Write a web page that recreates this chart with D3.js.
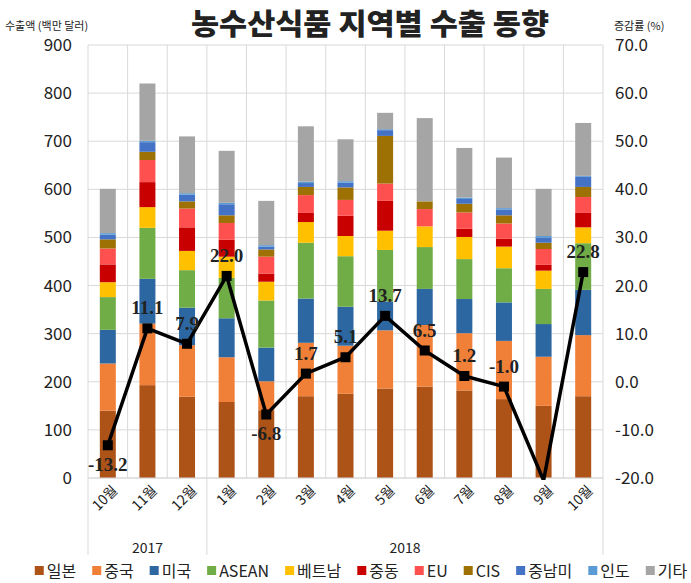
<!DOCTYPE html>
<html>
<head>
<meta charset="utf-8">
<script src="https://cdn.jsdelivr.net/npm/d3@7"></script>
<style>
  body { margin: 0; background: #fff; }
  text { font-family: "Noto Sans CJK KR", "Noto Sans", sans-serif; fill: #222; }
</style>
</head>
<body>
<script>
// data (백만 달러, %)
const months = ['10월', '11월', '12월', '1월', '2월', '3월', '4월', '5월', '6월', '7월', '8월', '9월', '10월'];
const monthYears = ['2017', '2017', '2017', '2018', '2018', '2018', '2018', '2018', '2018', '2018', '2018', '2018', '2018'];
const regions = ['일본', '중국', '미국', 'ASEAN', '베트남', '중동', 'EU', 'CIS', '중남미', '인도', '기타'];

const japan   = [140, 193, 169, 158, 141, 170, 175, 186, 190, 182, 164, 150, 170];
const china   = [ 98, 128, 107,  93,  60, 111, 100, 121, 128, 119, 121, 102, 127];
const usa     = [ 70,  93,  78,  81,  70,  92,  81,  60,  75,  71,  80,  68,  94];
const asean   = [ 68, 106,  78,  84,  98, 116, 105, 107,  87,  83,  71,  73,  97];
const vietnam = [ 31,  43,  40,  44,  39,  43,  42,  40,  43,  46,  45,  38,  33];
const mideast = [ 37,  52,  49,  35,  17,  19,  42,  62,   0,  17,  16,  12,  30];
const eu      = [ 33,  46,  39,  35,  35,  37,  33,  36,  36,  34,  32,  33,  33];
const cis     = [ 19,  17,  15,  16,  15,  17,  26,  99,  16,  18,  17,  13,  21];
const latam   = [ 10,  20,  14,  23,   6,   8,  10,  12,   0,  10,  12,  11,  21];
const india   = [  3,   3,   3,   3,   3,   3,   3,   2,   0,   3,   3,   3,   2];
const others  = [ 92, 119, 118, 108,  92, 115,  87,  34, 173, 103, 105,  98, 110];

const growth = [-13.2, 11.1, 7.9, 22.0, -6.8, 1.7, 5.1, 13.7, 6.5, 1.2, -1.0, -20.5, 22.8];

const leftTicks = [0, 100, 200, 300, 400, 500, 600, 700, 800, 900];
const rightTicks = [-20, -10, 0, 10, 20, 30, 40, 50, 60, 70];

const regionColors = ['#AE5318', '#F07F37', '#2D67A1', '#70AD47', '#FFC000', '#C80000',
                      '#FF5050', '#9E7105', '#4472C4', '#5B9BD5', '#A5A5A5'];

const SCREEN = {
    width: 691,
    height: 583,
    leftMargin: 88,
    rightMargin: 88,
    topMargin: 45,
    bottomMargin: 105
};
SCREEN.innerWidth = SCREEN.width - SCREEN.leftMargin - SCREEN.rightMargin;
SCREEN.innerHeight = SCREEN.height - SCREEN.topMargin - SCREEN.bottomMargin;

// plain hyphen for negatives, like the original
const fmt = d3.formatLocale({ decimal: '.', thousands: ',', grouping: [3], currency: ['', ''], minus: '-' }).format('.1f');

const series = [japan, china, usa, asean, vietnam, mideast, eu, cis, latam, india, others];
const table = months.map((m, i) => {
    const row = { idx: i };
    regions.forEach((r, k) => row[r] = series[k][i]);
    return row;
});
const stacked = d3.stack().keys(regions)(table);

const svg = d3.select('body').append('svg')
    .attr('width', SCREEN.width)
    .attr('height', SCREEN.height);

const x = d3.scaleBand().domain(d3.range(months.length)).range([0, SCREEN.innerWidth]);
const y = d3.scaleLinear().domain([0, 900]).range([SCREEN.innerHeight, 0]);
const y2 = d3.scaleLinear().domain([-20, 70]).range([SCREEN.innerHeight, 0]);
const color = d3.scaleOrdinal().domain(regions).range(regionColors);
const barWidth = 16;
const cx = i => x(i) + x.bandwidth() / 2;

const canvas = svg.append('g')
    .attr('transform', `translate(${SCREEN.leftMargin},${SCREEN.topMargin})`);

// grid
canvas.append('g').selectAll('line')
    .data(leftTicks)
    .enter().append('line')
    .attr('x1', 0).attr('x2', SCREEN.innerWidth)
    .attr('y1', d => y(d)).attr('y2', d => y(d))
    .attr('stroke', '#d9d9d9');

canvas.append('g').selectAll('line')
    .data(d3.range(months.length + 1))
    .enter().append('line')
    .attr('x1', d => d * x.step()).attr('x2', d => d * x.step())
    .attr('y1', 0).attr('y2', SCREEN.innerHeight)
    .attr('stroke', '#d9d9d9');

// stacked bars
canvas.append('g').selectAll('g')
    .data(stacked)
    .enter().append('g')
    .attr('fill', d => color(d.key))
    .selectAll('rect')
    .data(d => d)
    .enter().append('rect')
    .attr('x', d => cx(d.data.idx) - barWidth / 2)
    .attr('width', barWidth)
    .attr('y', d => y(d[1]))
    .attr('height', d => y(d[0]) - y(d[1]));

// category axis line + year separators
canvas.append('line')
    .attr('x1', 0).attr('x2', SCREEN.innerWidth)
    .attr('y1', SCREEN.innerHeight).attr('y2', SCREEN.innerHeight)
    .attr('stroke', '#d9d9d9');

const yearGroups = d3.groups(months.map((m, i) => ({ i, year: monthYears[i] })), d => d.year);
const sepX = [0].concat(yearGroups.map(g => x(g[1][g[1].length - 1].i) + x.step()));
canvas.append('g').selectAll('line')
    .data(sepX)
    .enter().append('line')
    .attr('x1', d => d).attr('x2', d => d)
    .attr('y1', SCREEN.innerHeight).attr('y2', SCREEN.innerHeight + 77)
    .attr('stroke', '#d9d9d9');

canvas.append('g').selectAll('text')
    .data(yearGroups)
    .enter().append('text')
    .attr('x', g => (x(g[1][0].i) + x(g[1][g[1].length - 1].i) + x.step()) / 2)
    .attr('y', SCREEN.innerHeight + 75)
    .attr('text-anchor', 'middle')
    .style('font-size', '14px')
    .text(g => g[0]);

// month labels, rotated
canvas.append('g').selectAll('text')
    .data(months)
    .enter().append('text')
    .attr('transform', (d, i) => `translate(${cx(i) + 7},${SCREEN.innerHeight + 10}) rotate(-45)`)
    .attr('text-anchor', 'end')
    .attr('dy', '0.35em')
    .style('font-size', '14px')
    .text(d => d);

// value axes
const leftAxis = d3.axisLeft(y).tickValues(leftTicks).tickSize(0).tickPadding(16);
const rightAxis = d3.axisRight(y2).tickValues(rightTicks).tickSize(0).tickPadding(12)
    .tickFormat(fmt);

const leftGroup = canvas.append('g').call(leftAxis);
const rightGroup = canvas.append('g')
    .attr('transform', `translate(${SCREEN.innerWidth},0)`)
    .call(rightAxis);
[leftGroup, rightGroup].forEach(g => {
    g.select('.domain').remove();
    g.selectAll('text')
        .style('font-size', '17px')
        .style('font-family', '"Noto Sans CJK KR", "Noto Sans", sans-serif')
        .attr('fill', '#222');
});

// growth line (secondary axis)
svg.append('clipPath').attr('id', 'plotClip')
    .append('rect')
    .attr('x', -2).attr('y', -2)
    .attr('width', SCREEN.innerWidth + 4)
    .attr('height', SCREEN.innerHeight + 4);

const lineGroup = canvas.append('g').attr('clip-path', 'url(#plotClip)');
lineGroup.append('path')
    .datum(growth)
    .attr('fill', 'none')
    .attr('stroke', '#000')
    .attr('stroke-width', 3.5)
    .attr('stroke-linejoin', 'round')
    .attr('d', d3.line().x((d, i) => cx(i)).y(d => y2(d)));

const visible = growth.map((v, i) => ({ v, i })).filter(d => d.v >= -20);

lineGroup.selectAll('rect.marker')
    .data(visible)
    .enter().append('rect')
    .attr('class', 'marker')
    .attr('x', d => cx(d.i) - 5)
    .attr('y', d => y2(d.v) - 5)
    .attr('width', 10)
    .attr('height', 10)
    .attr('fill', '#000');

const isLow = d => {
    const prev = growth[d.i - 1], next = growth[d.i + 1];
    return d.v < 0 && (prev === undefined || prev > d.v) && (next === undefined || next > d.v);
};

canvas.append('g').selectAll('text')
    .data(visible)
    .enter().append('text')
    .attr('x', d => cx(d.i))
    .attr('y', d => isLow(d) ? y2(d.v) + 26 : y2(d.v) - 14)
    .attr('text-anchor', 'middle')
    .style('font-family', '"Liberation Serif", "DejaVu Serif", serif')
    .style('font-weight', 'bold')
    .style('font-size', '19px')
    .attr('fill', '#000')
    .text(d => fmt(d.v));

// titles
svg.append('text')
    .attr('x', 370)
    .attr('y', 35)
    .attr('text-anchor', 'middle')
    .attr('textLength', 358)
    .attr('lengthAdjust', 'spacingAndGlyphs')
    .style('font-size', '29px')
    .style('font-weight', '900')
    .attr('fill', '#000')
    .text('농수산식품 지역별 수출 동향');

svg.append('text')
    .attr('x', 5).attr('y', 30)
    .style('font-size', '11px')
    .text('수출액 (백만 달러)');

svg.append('text')
    .attr('x', 614).attr('y', 30)
    .style('font-size', '11px')
    .text('증감률 (%)');

// legend
const legend = svg.append('g').attr('transform', 'translate(0,571)');
const items = legend.selectAll('g')
    .data(regions)
    .enter().append('g');
items.append('rect')
    .attr('y', -5).attr('width', 9).attr('height', 9)
    .attr('fill', d => color(d));
items.append('text')
    .attr('x', 12)
    .attr('dy', '0.35em')
    .style('font-size', '16px')
    .text(d => d);

const gap = 16;
const widths = items.nodes().map(n => 12 + d3.select(n).select('text').node().getComputedTextLength());
const total = d3.sum(widths) + gap * (widths.length - 1);
let pos = 361 - total / 2;
items.attr('transform', (d, i) => {
    const t = `translate(${pos},0)`;
    pos += widths[i] + gap;
    return t;
});
</script>
</body>
</html>
